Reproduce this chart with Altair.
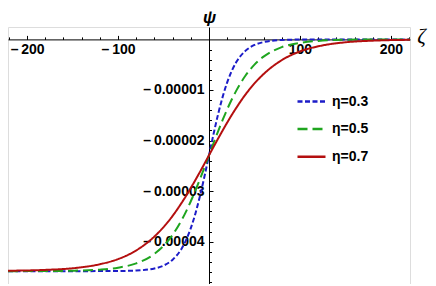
import altair as alt
import pandas as pd

# --- data (psi in units of 1e-5) ---
zeta = [-221, -180, -150, -120, -100, -80, -60, -50, -40, -30, -25, -20, -15, -10, -5, 0,
        5, 10, 15, 20, 25, 30, 40, 50, 60, 80, 100, 120, 150, 180, 221]
psi_eta03 = [-4.580, -4.580, -4.580, -4.579, -4.577, -4.568, -4.527, -4.470, -4.353, -4.131,
             -3.957, -3.730, -3.444, -3.101, -2.709, -2.290, -1.871, -1.479, -1.136, -0.850,
             -0.623, -0.449, -0.227, -0.110, -0.053, -0.012, -0.003, -0.001, 0.000, 0.000, 0.000]
psi_eta05 = [-4.580, -4.578, -4.572, -4.550, -4.511, -4.427, -4.239, -4.081, -3.861, -3.568,
             -3.393, -3.199, -2.988, -2.764, -2.530, -2.290, -2.050, -1.816, -1.592, -1.381,
             -1.187, -1.012, -0.719, -0.499, -0.341, -0.153, -0.069, -0.030, -0.008, -0.002, 0.000]
psi_eta07 = [-4.572, -4.555, -4.523, -4.443, -4.342, -4.170, -3.895, -3.710, -3.488, -3.227,
             -3.086, -2.936, -2.780, -2.620, -2.456, -2.290, -2.124, -1.960, -1.800, -1.644,
             -1.494, -1.353, -1.092, -0.870, -0.685, -0.410, -0.238, -0.137, -0.057, -0.025, -0.008]
series = ["η=0.3", "η=0.5", "η=0.7"]
colors = ["#1c1cc8", "#1fa51f", "#b40f0f"]
dashes = [[5, 2.5], [10, 5], [1, 0]]

x_major = [-200, -100, 100, 200]
x_minor = [-220, -180, -160, -140, -120, -80, -60, -40, -20, 20, 40, 60, 80, 120, 140, 160, 180, 220]
y_major = [-1, -2, -3, -4]
y_minor = [-0.2, -0.4, -0.6, -0.8, -1.2, -1.4, -1.6, -1.8, -2.2, -2.4, -2.6, -2.8,
           -3.2, -3.4, -3.6, -3.8, -4.2, -4.4, -4.6, -4.8]

rows = []
for name, vals in zip(series, [psi_eta03, psi_eta05, psi_eta07]):
    for z, p in zip(zeta, vals):
        rows.append({"zeta": z, "psi": p, "eta": name})
df = pd.DataFrame(rows)

W, H = 402, 257
xdom = [-221, 221]
ydom = [-4.834, 0.245]
x0 = (0 - xdom[0]) / (xdom[1] - xdom[0]) * W          # zeta = 0 in px
y0 = (ydom[1] - 0) / (ydom[1] - ydom[0]) * H          # psi = 0 in px from top

FONT = "Liberation Sans"
xs = alt.Scale(domain=xdom, nice=False, zero=False)
ys = alt.Scale(domain=ydom, nice=False, zero=False)

legend_kw = dict(
    orient="none", legendX=288, legendY=59, title=None, symbolType="stroke",
    symbolSize=784, symbolStrokeWidth=2.5, labelFont=FONT, labelFontSize=14,
    labelFontWeight="bold", labelColor="black", labelOffset=5, rowPadding=4.6,
    padding=0)

lines = alt.Chart(df).mark_line(strokeWidth=2, interpolate="monotone").encode(
    x=alt.X("zeta:Q", scale=xs, axis=alt.Axis(
        orient="bottom", offset=-(H - y0), values=x_major, ticks=False, grid=False,
        domainColor="black", domainWidth=1, labelFont=FONT, labelFontWeight="bold",
        labelFontSize=14, labelColor="black", labelPadding=3, labelFlush=False,
        labelOverlap=False,
        labelExpr="datum.value < 0 ? '\u2013\u2009' + format(abs(datum.value), 'd') : format(datum.value, 'd')",
        title="ζ", titleX=W + 11, titleY=-3, titleAngle=0,
        titleAlign="center", titleBaseline="middle", titleFont="Liberation Serif",
        titleFontStyle="italic", titleFontWeight="normal", titleFontSize=21,
        titleColor="black")),
    y=alt.Y("psi:Q", scale=ys, axis=alt.Axis(
        orient="left", offset=-x0, values=y_major, ticks=False, grid=False,
        domainColor="black", domainWidth=1, labelFont=FONT, labelFontWeight="bold",
        labelFontSize=14, labelColor="black", labelPadding=5, labelFlush=False,
        labelOverlap=False,
        labelExpr="'\u2013\u2009' + format(abs(datum.value) * 0.00001, '.5f')",
        title="ψ", titleX=0, titleY=-10, titleAngle=0, titleAlign="center",
        titleBaseline="middle", titleFont=FONT, titleFontStyle="italic",
        titleFontWeight="bold", titleFontSize=17, titleColor="black")),
    color=alt.Color("eta:N", scale=alt.Scale(domain=series, range=colors),
                    legend=alt.Legend(**legend_kw)),
    strokeDash=alt.StrokeDash("eta:N", scale=alt.Scale(domain=series, range=dashes),
                              legend=alt.Legend(**legend_kw)),
)


def tick_layer(xvals, yvals, size):
    return alt.Chart(df).mark_line(opacity=0).encode(
        x=alt.X("zeta:Q", scale=xs, axis=alt.Axis(
            orient="top", offset=-y0, values=xvals, tickSize=size, tickColor="black",
            tickWidth=1, labels=False, domain=False, grid=False, title=None)),
        y=alt.Y("psi:Q", scale=ys, axis=alt.Axis(
            orient="right", offset=-(W - x0), values=yvals, tickSize=size, tickColor="black",
            tickWidth=1, labels=False, domain=False, grid=False, title=None)),
        detail="eta:N",
    )


chart = alt.layer(
    lines,
    tick_layer(x_major, y_major, 4),
    tick_layer(x_minor, y_minor, 2.5),
).resolve_axis(x="independent", y="independent").properties(
    width=W, height=H,
    autosize=alt.AutoSizeParams(type="none"),
    padding={"left": 0, "top": 19, "right": 18, "bottom": 0},
).configure_view(stroke=None).configure(background="white")

chart.save("out.html", embed_options={"renderer": "svg", "actions": False})
